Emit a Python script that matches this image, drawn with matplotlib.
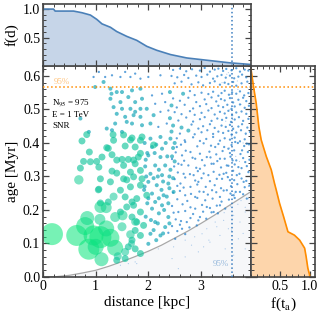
import numpy as np
import matplotlib
matplotlib.use("Agg")
import matplotlib.pyplot as plt
from matplotlib.colors import LinearSegmentedColormap, LogNorm
from matplotlib.ticker import MultipleLocator

plt.rcParams["font.family"] = ["Liberation Serif", "DejaVu Serif"]
plt.rcParams["mathtext.fontset"] = "stix"

# ── Data ──────────────────────────────────────────────────────────────────────
# bright sources (flux in arbitrary units)
big_d = [0.17, 0.64, 0.80, 0.84, 1.09, 0.87, 1.11, 1.28, 1.37, 1.09, 1.20, 1.08, 1.37,
         1.51, 1.50, 1.66, 1.56, 1.68, 1.42, 0.96, 1.34, 1.05, 1.75, 1.20, 1.00, 0.68]
big_age = [0.128, 0.124, 0.152, 0.176, 0.119, 0.083, 0.053, 0.117, 0.087, 0.209, 0.207,
           0.172, 0.179, 0.184, 0.150, 0.127, 0.075, 0.100, 0.062, 0.124, 0.240, 0.260,
           0.165, 0.145, 0.090, 0.290]
big_flux = [121, 110, 81, 49, 121, 110, 49, 81, 64, 36, 30, 30, 25, 25, 20, 18, 16, 12,
            16, 100, 16, 12, 16, 64, 64, 22]

# medium sources
med_d = [0.74, 0.83, 1.33, 1.34, 1.69, 1.88, 0.88, 1.21, 1.31, 1.56, 1.75, 1.85, 0.77,
         1.02, 1.12, 1.50, 1.62, 1.81, 0.71, 1.06, 1.31, 1.53, 1.75, 1.85, 1.66, 1.09,
         1.28, 1.53, 1.72, 1.88, 1.06, 1.47, 1.66, 1.85, 1.56, 1.78, 1.97, 1.09, 1.24,
         1.69, 0.90, 1.24, 1.40, 1.53, 1.66, 1.40, 1.59, 1.72, 1.85, 2.10, 1.47, 1.59,
         1.72, 1.85, 1.69, 1.78, 1.91, 1.75, 1.85, 1.69, 1.62, 1.75, 1.85, 1.56, 1.40]
med_age = [0.406, 0.425, 0.425, 0.408, 0.415, 0.418, 0.373, 0.386, 0.365, 0.391, 0.388,
           0.408, 0.345, 0.345, 0.358, 0.351, 0.351, 0.358, 0.325, 0.328, 0.316, 0.333,
           0.338, 0.318, 0.313, 0.293, 0.284, 0.293, 0.299, 0.293, 0.262, 0.259, 0.269,
           0.274, 0.239, 0.234, 0.244, 0.221, 0.224, 0.224, 0.344, 0.384, 0.349, 0.424,
           0.409, 0.310, 0.290, 0.349, 0.369, 0.394, 0.194, 0.209, 0.214, 0.194, 0.179,
           0.164, 0.154, 0.139, 0.124, 0.110, 0.090, 0.084, 0.070, 0.055, 0.050]
med_flux = 12

# fainter, teal sources
teal_d = [1.15, 0.99, 1.28, 1.30, 1.40, 1.50, 1.69, 1.85, 1.28, 1.47, 1.62, 1.75, 1.88,
          1.34, 1.50, 1.66, 1.75, 1.85, 1.40, 1.56, 1.72, 1.85, 0.71, 1.37, 1.59, 1.69,
          1.88, 1.21, 1.31, 1.50, 0.87, 2.04, 2.23, 2.42, 2.07, 2.26, 2.00, 2.23, 2.13,
          2.32, 2.04, 2.26, 2.00, 2.16, 2.38, 2.07, 2.29, 2.48, 2.13, 1.97, 2.04, 2.10,
          2.07, 2.26, 2.38, 2.13, 2.32, 2.04, 2.23, 2.00, 1.95, 1.98, 2.18, 2.35, 2.45,
          1.92, 2.05, 2.20, 1.95, 2.10, 2.40, 2.50, 2.41, 2.66, 2.44, 2.41, 2.47, 2.63,
          2.44, 2.76,
          1.93, 2.15, 2.33, 2.47, 1.98, 2.12, 2.36, 2.50, 1.94, 2.20, 2.42, 1.96, 2.10,
          2.28, 2.47, 1.93, 2.25, 2.40, 2.00, 2.20, 2.38, 2.30, 2.18, 2.40, 2.28, 2.15]
teal_age = [0.582, 0.567, 0.562, 0.547, 0.552, 0.552, 0.557, 0.562, 0.532, 0.522, 0.537,
            0.522, 0.532, 0.507, 0.502, 0.502, 0.493, 0.502, 0.487, 0.478, 0.483, 0.478,
            0.473, 0.458, 0.463, 0.458, 0.453, 0.443, 0.438, 0.433, 0.433, 0.413, 0.418,
            0.413, 0.388, 0.383, 0.363, 0.358, 0.333, 0.333, 0.308, 0.304, 0.284, 0.274,
            0.279, 0.249, 0.244, 0.254, 0.224, 0.502, 0.458, 0.483, 0.204, 0.214, 0.179,
            0.164, 0.149, 0.129, 0.124, 0.099, 0.350, 0.220, 0.300, 0.240, 0.360, 0.260,
            0.170, 0.190, 0.180, 0.140, 0.300, 0.400, 0.552, 0.547, 0.512, 0.474, 0.452,
            0.446, 0.434, 0.437,
            0.400, 0.395, 0.400, 0.385, 0.370, 0.370, 0.360, 0.345, 0.330, 0.320, 0.320,
            0.300, 0.295, 0.285, 0.295, 0.270, 0.260, 0.265, 0.235, 0.235, 0.220, 0.200,
            0.160, 0.160, 0.130, 0.110]
teal_flux = 4

# faint, blue sources
small_d = [0.96, 1.06, 1.18, 1.31, 1.47, 1.56, 1.66, 1.75, 1.85,
           2.00, 2.23, 2.07, 2.26, 2.13, 2.32, 2.23, 2.38, 2.19, 2.35,
           2.54, 2.70, 2.64, 2.80, 2.57, 2.76, 2.89, 2.67, 2.86, 2.98, 2.61, 2.80, 2.95,
           2.70, 2.89, 3.05, 3.27, 3.52, 3.65, 3.78, 3.87, 3.11, 3.24, 3.36, 3.49, 3.60,
           3.71, 3.84, 3.14, 3.30, 3.43, 3.55, 3.68, 3.81, 3.21, 3.36, 3.49, 3.62, 3.74,
           3.87, 2.57, 2.73, 2.64, 2.89, 2.98, 3.11, 3.24, 3.36, 3.46, 2.51,
           # upper right block, row by row
           2.47, 2.60, 2.72, 2.83, 2.98, 3.07, 3.17, 3.26, 3.33, 3.42, 3.48, 3.58, 3.67,
           3.74, 3.83, 3.90,
           2.44, 2.55, 2.68, 2.76, 2.91, 3.01, 3.12, 3.23, 3.31, 3.39, 3.47, 3.55, 3.63,
           3.71, 3.78, 3.86,
           2.50, 2.63, 2.82, 2.95, 3.04, 3.17, 3.26, 3.36, 3.45, 3.52, 3.61, 3.67, 3.77,
           3.88,
           2.79, 2.88, 3.01, 3.14, 3.23, 3.33, 3.39, 3.45, 3.53, 3.59, 3.67, 3.74, 3.82,
           3.90,
           2.47, 2.60, 2.76, 2.91, 3.07, 3.20, 3.29, 3.38, 3.45, 3.55, 3.61, 3.71, 3.80,
           3.86,
           2.54, 2.69, 2.85, 2.98, 3.10, 3.20, 3.33, 3.42, 3.50, 3.58, 3.64, 3.74, 3.83,
           3.91,
           2.50, 2.63, 2.79, 2.88, 3.01, 3.14, 3.26, 3.36, 3.45, 3.52, 3.59, 3.67, 3.77,
           3.86,
           2.57, 2.72, 2.85, 2.98, 3.07, 3.20, 3.31, 3.40, 3.48, 3.57, 3.64, 3.72, 3.80,
           3.90,
           2.82, 2.95, 3.04, 3.17, 3.26, 3.39, 3.47, 3.55, 3.61, 3.71, 3.78, 3.88,
           2.60, 2.88, 3.01, 3.12, 3.23, 3.33, 3.42, 3.52, 3.58, 3.67, 3.76, 3.85, 3.93,
           2.54, 2.69, 2.85, 2.98, 3.10, 3.23, 3.36, 3.45, 3.55, 3.64, 3.74, 3.83,
           # lower right block, row by row
           2.62, 2.93, 3.05, 3.19, 3.33, 3.44, 3.58, 3.70, 3.82, 3.91,
           2.52, 2.71, 2.98, 3.16, 3.29, 3.41, 3.55, 3.63, 3.75, 3.89,
           2.45, 2.68, 2.84, 3.02, 3.18, 3.31, 3.45, 3.56, 3.67, 3.80, 3.92,
           2.49, 2.63, 2.91, 3.07, 3.20, 3.38, 3.52, 3.64, 3.77, 3.87,
           2.56, 2.79, 2.94, 3.05, 3.24, 3.35, 3.48, 3.61, 3.73, 3.90,
           2.50, 2.70, 2.89, 3.01, 3.17, 3.40, 3.51, 3.63, 3.77, 3.86,
           2.55, 2.67, 2.93, 3.09, 3.26, 3.38, 3.57, 3.69, 3.83, 3.92,
           2.47, 2.60, 2.81, 2.97, 3.13, 3.29, 3.43, 3.56, 3.66, 3.80,
           2.55, 2.74, 2.93, 3.08, 3.22, 3.39, 3.53, 3.64,
           2.45, 2.65, 2.80, 3.02, 3.17, 3.30,
           2.48, 2.70, 2.85, 3.04, 3.20, 3.32,
           2.52, 2.62, 2.80, 2.95, 3.10,
           2.45, 2.60, 2.78, 2.92,
           2.38, 2.55, 2.70]
small_age = [0.597, 0.612, 0.597, 0.602, 0.597, 0.612, 0.597, 0.607, 0.592,
             0.597, 0.602, 0.542, 0.547, 0.517, 0.522, 0.493, 0.497, 0.448, 0.458,
             0.388, 0.403, 0.363, 0.373, 0.338, 0.333, 0.353, 0.308, 0.304, 0.323, 0.279,
             0.269, 0.284, 0.244, 0.239, 0.254, 0.388, 0.383, 0.403, 0.378, 0.398, 0.358,
             0.338, 0.353, 0.333, 0.348, 0.328, 0.343, 0.304, 0.293, 0.308, 0.289, 0.304,
             0.284, 0.259, 0.239, 0.259, 0.244, 0.254, 0.234, 0.194, 0.164, 0.144, 0.204,
             0.179, 0.209, 0.194, 0.214, 0.204, 0.114,
             0.618, 0.622, 0.614, 0.620, 0.616, 0.624, 0.613, 0.619, 0.622, 0.615, 0.621,
             0.617, 0.623, 0.613, 0.619, 0.616,
             0.600, 0.596, 0.603, 0.594, 0.601, 0.597, 0.604, 0.592, 0.599, 0.603, 0.595,
             0.601, 0.593, 0.598, 0.604, 0.596,
             0.578, 0.583, 0.575, 0.581, 0.572, 0.579, 0.584, 0.574, 0.580, 0.576, 0.582,
             0.571, 0.578, 0.583,
             0.555, 0.543, 0.550, 0.546, 0.553, 0.541, 0.549, 0.556, 0.544, 0.551, 0.547,
             0.554, 0.542, 0.549,
             0.533, 0.526, 0.535, 0.522, 0.530, 0.536, 0.524, 0.531, 0.527, 0.534, 0.521,
             0.529, 0.535, 0.525,
             0.506, 0.514, 0.503, 0.510, 0.516, 0.504, 0.511, 0.507, 0.514, 0.502, 0.509,
             0.515, 0.505, 0.511,
             0.492, 0.486, 0.495, 0.484, 0.490, 0.497, 0.485, 0.493, 0.488, 0.496, 0.483,
             0.491, 0.494, 0.487,
             0.467, 0.476, 0.464, 0.471, 0.477, 0.466, 0.473, 0.469, 0.475, 0.463, 0.470,
             0.477, 0.466, 0.472,
             0.455, 0.443, 0.450, 0.456, 0.445, 0.452, 0.448, 0.454, 0.442, 0.449, 0.456,
             0.446,
             0.428, 0.426, 0.432, 0.438, 0.427, 0.434, 0.430, 0.436, 0.425, 0.431, 0.438,
             0.428, 0.433,
             0.414, 0.408, 0.417, 0.406, 0.412, 0.418, 0.407, 0.414, 0.410, 0.416, 0.405,
             0.411,
             0.395, 0.390, 0.399, 0.392, 0.397, 0.388, 0.394, 0.400, 0.391, 0.396,
             0.372, 0.377, 0.368, 0.374, 0.366, 0.376, 0.370, 0.378, 0.367, 0.373,
             0.352, 0.347, 0.356, 0.349, 0.357, 0.346, 0.353, 0.359, 0.348, 0.355, 0.350,
             0.330, 0.335, 0.326, 0.333, 0.338, 0.327, 0.332, 0.336, 0.325, 0.331,
             0.312, 0.307, 0.316, 0.309, 0.314, 0.305, 0.311, 0.317, 0.308, 0.313,
             0.292, 0.297, 0.288, 0.295, 0.286, 0.293, 0.298, 0.289, 0.294, 0.287,
             0.272, 0.267, 0.276, 0.269, 0.274, 0.265, 0.271, 0.277, 0.268, 0.273,
             0.252, 0.257, 0.248, 0.255, 0.246, 0.253, 0.258, 0.249, 0.254, 0.247,
             0.232, 0.227, 0.236, 0.229, 0.234, 0.225, 0.231, 0.236,
             0.212, 0.217, 0.208, 0.215, 0.206, 0.213,
             0.192, 0.197, 0.188, 0.195, 0.193, 0.190,
             0.172, 0.167, 0.176, 0.169, 0.174,
             0.152, 0.156, 0.148, 0.154,
             0.132, 0.137, 0.128]
small_flux = 1.3

# very faint sources (mostly below the diffusion curve)
tiny_d = [2.19, 2.48, 2.70, 2.82, 3.02, 3.11, 3.27, 3.43, 3.52, 3.36, 3.17, 2.95, 2.70,
          2.45, 3.62, 3.74, 3.84, 3.71, 3.84, 3.62, 3.46, 2.57, 1.47, 1.56, 1.62, 1.75,
          1.78, 3.50, 3.58, 3.66, 3.55, 3.70, 3.90, 3.40, 3.60, 3.80, 3.52, 3.64, 3.92,
          3.49, 3.69, 3.88, 3.56, 3.76, 3.93, 3.47, 3.62, 3.85, 3.54, 3.73, 3.91,
          3.76, 3.90, 3.56, 3.70, 3.84, 3.44, 3.58, 3.80, 3.30, 3.15, 3.05, 2.88]
tiny_age = [0.084, 0.090, 0.110, 0.095, 0.129, 0.144, 0.164, 0.169, 0.144, 0.124, 0.104,
            0.075, 0.060, 0.055, 0.184, 0.164, 0.194, 0.114, 0.084, 0.065, 0.084, 0.025,
            0.035, 0.050, 0.040, 0.045, 0.040, 0.30, 0.42, 0.36, 0.50, 0.56, 0.27, 0.58,
            0.47, 0.40, 0.61, 0.25, 0.52, 0.605, 0.585, 0.565, 0.545, 0.515, 0.495,
            0.465, 0.445, 0.425, 0.385, 0.345, 0.315,
            0.228, 0.234, 0.212, 0.217, 0.208, 0.192, 0.140, 0.130, 0.150, 0.110, 0.090,
            0.120]
tiny_flux = 0.35

# diffusion horizon (grey curve)
curve_d = [0, 0.25, 0.5, 0.75, 1.0, 1.25, 1.5, 1.75, 2.0, 2.25, 2.5, 2.75, 3.0, 3.25,
           3.5, 3.75, 3.95]
curve_age = [0, 0.001, 0.005, 0.012, 0.020, 0.032, 0.046, 0.061, 0.077, 0.095, 0.116,
             0.137, 0.160, 0.184, 0.210, 0.235, 0.255]

# cumulative distance distribution f(d)
fd_d = [0, 0.20, 0.23, 0.58, 0.74, 0.90, 1.02, 1.12, 1.28, 1.40, 1.59, 1.78, 1.97, 2.16,
        2.42, 2.73, 3.11, 3.55, 3.95]
fd_f = [1.0, 1.0, 0.965, 0.965, 0.936, 0.895, 0.82, 0.74, 0.68, 0.605, 0.52, 0.45, 0.345,
        0.275, 0.20, 0.14, 0.10, 0.054, 0.025]

# cumulative age distribution f(t_a)
fta_age = [0.0, 0.006, 0.026, 0.061, 0.086, 0.110, 0.125, 0.135, 0.18, 0.22, 0.26, 0.28,
           0.32, 0.36, 0.409, 0.449, 0.518, 0.568, 0.62]
fta_f = [1.0, 1.0, 0.97, 0.94, 0.915, 0.83, 0.74, 0.63, 0.556, 0.487, 0.43, 0.40, 0.345,
         0.26, 0.174, 0.133, 0.089, 0.043, 0.0]

d95 = 3.58
age95 = 0.566
n95 = 975
energy = "1 TeV"

# ── Figure ─────────────────────────────────────────────────────────────────────
SPINE = "#444444"
cmap = LinearSegmentedColormap.from_list(
    "src", [(0.0, "#4a90d8"), (0.225, "#2a84cf"), (0.42, "#18a8b8"),
            (0.575, "#16c2a0"), (1.0, "#08e879")])
norm = LogNorm(vmin=0.35, vmax=120)
PX2 = 2.07   # marker area (pt^2) per unit flux

fig = plt.figure(figsize=(3.21, 3.16), dpi=100)
ax = fig.add_axes([0.134, 0.1234, 0.648, 0.668])
axt = fig.add_axes([0.134, 0.7914, 0.648, 0.196], sharex=ax)
axr = fig.add_axes([0.782, 0.1234, 0.199, 0.668], sharey=ax)

# shading below the diffusion horizon
ax.fill_between(curve_d, 0, curve_age, color="#f6f7f9", lw=0, zorder=0)
ax.plot(curve_d, curve_age, color="#a8a8a8", lw=0.9, zorder=1)

groups = [
    (tiny_d, tiny_age, [tiny_flux] * len(tiny_d), 0.45),
    (small_d, small_age, [small_flux] * len(small_d), 0.75),
    (teal_d, teal_age, [teal_flux] * len(teal_d), 0.7),
    (med_d, med_age, [med_flux] * len(med_d), 0.65),
    (big_d, big_age, big_flux, 0.55),
]
for d, a, f, alpha in groups:
    f = np.asarray(f, dtype=float)
    ax.scatter(d, a, s=f * PX2, c=cmap(norm(f)), alpha=alpha, lw=0, zorder=2)

ax.axvline(d95, color="#3a7dc0", ls=":", lw=1.1, zorder=3)
ax.axhline(age95, color="#ff8c00", ls=":", lw=1.1, zorder=3)

ax.text(0.18, 0.519, rf"N$_{{95}}$ = {n95}", fontsize=6.5, va="center")
ax.text(0.18, 0.484, f"E = {energy}", fontsize=6.5, va="center")
ax.text(0.18, 0.451, "SNR", fontsize=6.5, va="center")
ax.text(0.35, 0.582, "95%", fontsize=6.5, color="#ff8c00", alpha=0.5,
        ha="center", va="center")
ax.text(3.37, 0.040, "95%", fontsize=6.5, color="#3a7dc0", alpha=0.5,
        ha="center", va="center")

ax.set_xlim(0, 3.95)
ax.set_ylim(0, 0.63)
ax.set_xlabel("distance [kpc]", fontsize=11, labelpad=2)
ax.set_ylabel("age [Myr]", fontsize=11, labelpad=3)
ax.xaxis.set_major_locator(MultipleLocator(1))
ax.xaxis.set_minor_locator(MultipleLocator(0.2))
ax.yaxis.set_major_locator(MultipleLocator(0.1))
ax.yaxis.set_minor_locator(MultipleLocator(0.02))

# top panel: f(d)
axt.fill_between(fd_d, 0, fd_f, color="#c6d5e8", lw=0)
axt.plot(fd_d, fd_f, color="#4a80b8", lw=1.2)
axt.axvline(d95, color="#3a7dc0", ls=":", lw=1.1)
axt.set_ylim(0, 1.09)
axt.set_yticks([0.5, 1.0])
axt.yaxis.set_minor_locator(MultipleLocator(0.1))
axt.set_ylabel("f(d)", fontsize=11, labelpad=3)
plt.setp(axt.get_xticklabels(), visible=False)

# right panel: f(t_a)
axr.fill_betweenx(fta_age, 0, fta_f, color="#fdd5ab", lw=0)
axr.plot(fta_f, fta_age, color="#ff8c00", lw=1.2)
axr.axhline(age95, color="#ff8c00", ls=":", lw=1.1)
axr.set_xlim(0, 1.09)
axr.set_xticks([0.5, 1.0])
axr.xaxis.set_minor_locator(MultipleLocator(0.1))
axr.set_xlabel(r"f(t$_{\rm a}$)", fontsize=11, labelpad=2)
plt.setp(axr.get_yticklabels(), visible=False)

for a in (ax, axt, axr):
    for sp in a.spines.values():
        sp.set_color(SPINE)
        sp.set_linewidth(1.2)
    a.tick_params(which="both", direction="in", top=True, right=True,
                  color=SPINE, labelsize=10, pad=2)
    a.tick_params(which="major", length=4.5, width=0.9)
    a.tick_params(which="minor", length=2.2, width=0.7)

fig.savefig("out.png", dpi=100)
